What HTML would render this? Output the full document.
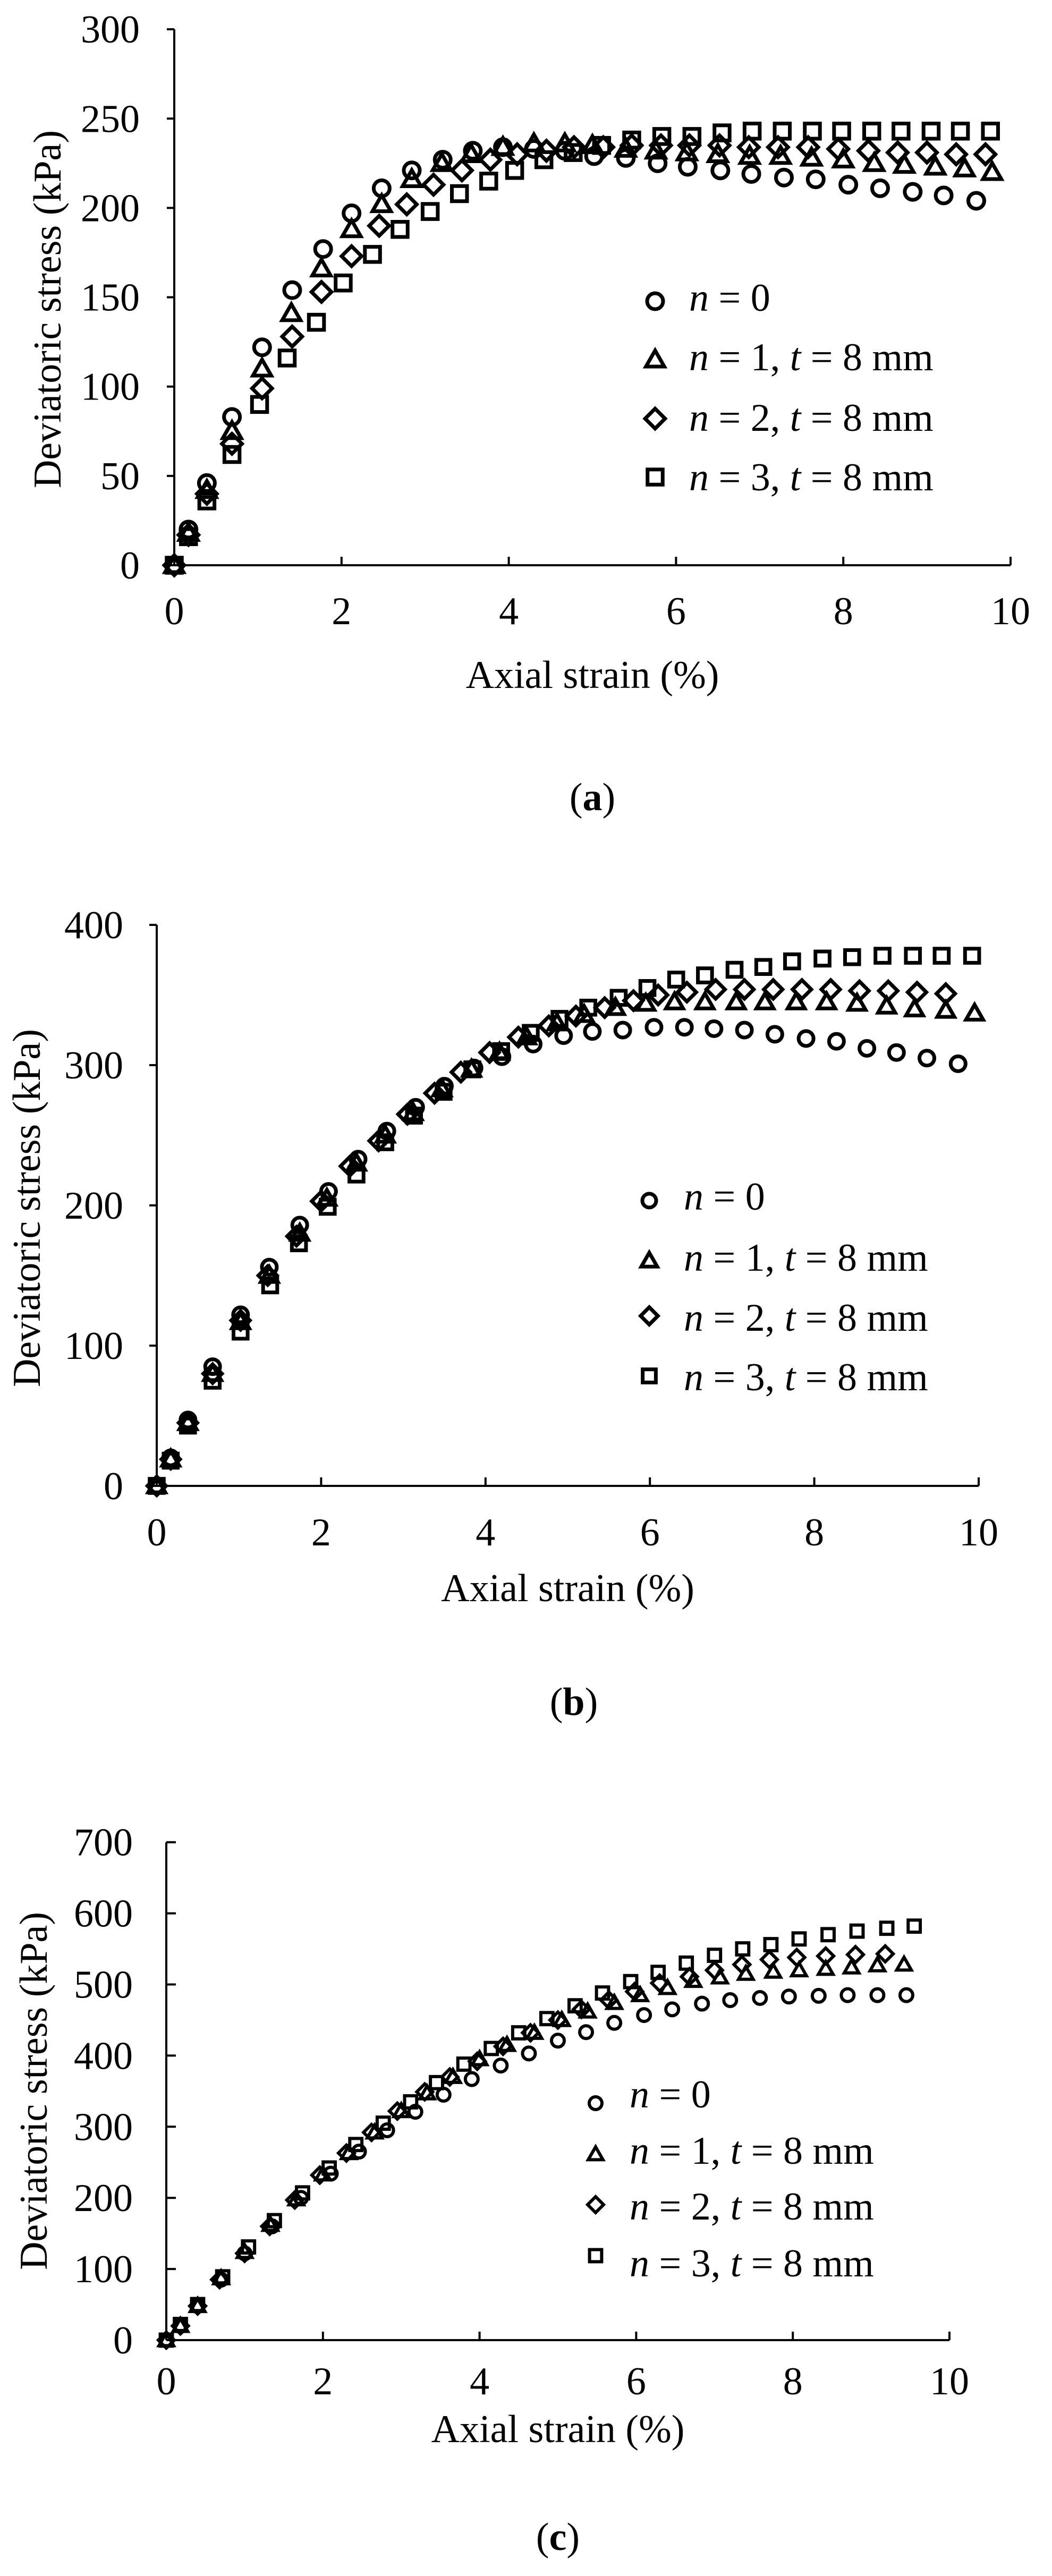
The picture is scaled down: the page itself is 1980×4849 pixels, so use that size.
<!DOCTYPE html>
<html><head><meta charset="utf-8"><style>
html,body{margin:0;padding:0;background:#fff;}
svg{display:block;}
text{font-family:"Liberation Serif",serif;fill:#000;}
</style></head><body>
<svg id="s" xmlns="http://www.w3.org/2000/svg" width="1980" height="4849" viewBox="0 0 1980 4849"></svg>
<script>
const S=document.getElementById('s');const NS='http://www.w3.org/2000/svg';
function el(t,a,txt){const e=document.createElementNS(NS,t);for(const k in a)e.setAttribute(k,a[k]);if(txt!==undefined)e.textContent=txt;S.appendChild(e);return e;}
function mk(type,x,y,r,sw){
 const st={fill:'none',stroke:'#000','stroke-width':sw};
 if(type==0)el('circle',Object.assign({cx:x,cy:y,r:r},st));
 else if(type==1){const h=r*1.15;el('polygon',Object.assign({points:`${x},${y-h} ${x+h},${y+h*0.75} ${x-h},${y+h*0.75}`,'stroke-linejoin':'miter'},st));}
 else if(type==2){const h=r*1.25;el('polygon',Object.assign({points:`${x},${y-h} ${x+h},${y} ${x},${y+h} ${x-h},${y}`},st));}
 else {const h=r*0.95;el('rect',Object.assign({x:x-h,y:y-h,width:2*h,height:2*h},st));}
}
function legendText(x,y,n,fs){
 const t=el('text',{x:x,y:y,'font-size':fs});
 const a=(s,it)=>{const sp=document.createElementNS(NS,'tspan');if(it)sp.setAttribute('font-style','italic');sp.textContent=s;t.appendChild(sp);};
 a('n',1);
 if(n==0)a(' = 0');else{a(' = '+n+', ');a('t',1);a(' = 8 mm');}
}
function panel(P){
 const X=v=>P.x0+v*P.px, Y=v=>P.y0-v*P.py;
 // axes
 el('line',{x1:P.x0,y1:Y(P.ymax),x2:P.x0,y2:P.y0,stroke:'#000','stroke-width':4});
 el('line',{x1:P.x0,y1:P.y0,x2:X(10),y2:P.y0,stroke:'#000','stroke-width':4});
 for(let v=0;v<=P.ymax;v+=P.ystep){
  const y=Y(v);
  if(P.yin) el('line',{x1:P.x0,y1:y,x2:P.x0+18,y2:y,stroke:'#000','stroke-width':4});
  else el('line',{x1:P.x0-14,y1:y,x2:P.x0,y2:y,stroke:'#000','stroke-width':4});
  el('text',{x:P.ylr,y:y+25,'font-size':P.fs,'text-anchor':'end'},String(v));
 }
 for(let v=0;v<=10;v+=2){
  const x=X(v);
  el('line',{x1:x,y1:P.y0-16,x2:x,y2:P.y0,stroke:'#000','stroke-width':4});
  el('text',{x:x,y:P.xly+25,'font-size':P.fs,'text-anchor':'middle'},String(v));
 }
 el('text',{x:(P.x0+X(10))/2+P.xtoff,y:P.xty+25,'font-size':P.fs,'text-anchor':'middle'},'Axial strain (%)');
 el('text',{x:0,y:0,'font-size':P.fs,'text-anchor':'middle',transform:`translate(${P.ytx+25},${P.yty}) rotate(-90)`},'Deviatoric stress (kPa)');
 // data
 for(let s=0;s<4;s++){const d=P.data[s];for(let i=0;i<d.length;i+=2)mk(s,X(d[i]),Y(d[i+1]),P.mr,P.sw);}
 // legend
 for(let s=0;s<4;s++){mk(s,P.lmx,P.lmy[s],P.lmr,P.sw);legendText(P.ltx,P.lty[s],s,P.fs);}
 // label
 const t=el('text',{x:P.lblx,y:P.lbly,'font-size':74,'text-anchor':'middle'});
 const a=(s,b)=>{const sp=document.createElementNS(NS,'tspan');if(b)sp.setAttribute('font-weight','bold');sp.textContent=s;t.appendChild(sp);};
 a('(');a(P.lbl,1);a(')');
}
panel({x0:328,y0:1064,px:157.4,py:3.363,ymax:300,ystep:50,yin:false,fs:74,ylr:263,xly:1150,xty:1270,xtoff:0,ytx:89,yty:582,
 mr:15,sw:7,lmx:1233,lmy:[567,677,788,898],lmr:15,ltx:1297,lty:[585,697,811,923],lbl:'a',lblx:1115,lbly:1525,
 data:[
 [0,0,0.17,20,0.39,46,0.69,83,1.05,122,1.41,154,1.78,177,2.12,197,2.48,211,2.84,221,3.21,227,3.57,232,3.93,234,4.3,233,4.67,232,5.02,229,5.4,228,5.78,225,6.14,223,6.53,221,6.9,219,7.29,217,7.67,216,8.06,213,8.44,211,8.83,209,9.2,207,9.59,204],
 [0,0,0.17,18,0.39,42,0.69,75,1.05,110,1.4,141,1.76,166,2.12,188,2.48,202,2.84,216,3.2,225,3.55,230,3.93,234,4.3,236,4.67,236,5.0,235,5.4,233,5.76,232,6.13,231,6.5,230,6.88,229,7.25,229,7.62,228,8.0,227,8.37,225,8.73,224,9.1,223,9.45,222,9.78,220],
 [0,0,0.17,17,0.39,40,0.69,68,1.05,99,1.41,128,1.76,153,2.12,173,2.45,190,2.78,202,3.1,213,3.44,221,3.78,227,4.1,230,4.45,232,4.78,234,5.13,234,5.47,235,5.82,235,6.16,235,6.52,235,6.87,234,7.22,234,7.58,234,7.94,233,8.3,232,8.65,231,9.0,231,9.35,230,9.7,230],
 [0,0,0.17,16,0.39,36,0.69,62,1.02,90,1.35,116,1.7,136,2.02,158,2.37,174,2.7,188,3.06,198,3.41,208,3.76,215,4.07,221,4.42,227,4.77,231,5.11,235,5.47,238,5.83,240,6.19,240,6.55,242,6.91,243,7.27,243,7.63,243,7.98,243,8.34,243,8.69,243,9.05,243,9.4,243,9.76,243]
 ]});
panel({x0:295,y0:2797,px:154.7,py:2.64,ymax:400,ystep:100,yin:false,fs:74,ylr:232,xly:2884,xty:2989,xtoff:0,ytx:50,yty:2274,
 mr:14,sw:7,lmx:1222,lmy:[2260,2373,2477,2590],lmr:13,ltx:1287,lty:[2277,2392,2505,2617],lbl:'b',lblx:1080,lbly:3228,
 data:[
 [0,0,0.17,20,0.38,47,0.68,85,1.02,122,1.37,156,1.74,186,2.09,210,2.45,233,2.8,253,3.15,270,3.5,285,3.86,298,4.2,306,4.58,315,4.95,321,5.3,324,5.67,325,6.05,327,6.42,327,6.78,326,7.15,325,7.52,322,7.9,319,8.27,317,8.64,312,9.0,309,9.37,305,9.75,301],
 [0,0,0.17,19,0.38,45,0.68,80,1.02,117,1.37,150,1.74,180,2.07,205,2.43,230,2.78,250,3.12,266,3.47,283,3.83,297,4.17,309,4.5,320,4.87,330,5.2,336,5.58,341,5.95,344,6.3,345,6.67,345,7.05,345,7.4,345,7.78,345,8.15,345,8.52,344,8.88,342,9.22,340,9.6,339,9.95,337],
 [0,0,0.17,19,0.38,45,0.68,80,1.02,118,1.35,150,1.7,178,2.0,203,2.35,228,2.7,246,3.05,265,3.38,280,3.7,295,4.05,309,4.4,320,4.77,328,5.1,335,5.45,341,5.8,346,6.1,350,6.45,352,6.8,354,7.15,354,7.5,354,7.85,354,8.2,354,8.55,353,8.9,353,9.25,352,9.6,351],
 [0,0,0.17,18,0.38,43,0.68,75,1.02,110,1.38,143,1.73,173,2.08,199,2.43,222,2.78,245,3.13,264,3.49,281,3.84,297,4.19,310,4.55,323,4.9,333,5.25,341,5.62,348,5.97,355,6.32,361,6.67,364,7.03,368,7.38,370,7.73,374,8.1,376,8.46,377,8.83,378,9.2,378,9.55,378,9.92,378]
 ]});
panel({x0:313,y0:4405,px:147.4,py:1.339,ymax:700,ystep:100,yin:true,fs:74,ylr:250,xly:4482,xty:4572,xtoff:0,ytx:63,yty:3936,
 mr:12,sw:6,lmx:1121,lmy:[3959,4055,4150,4246],lmr:12,ltx:1185,lty:[3967,4073,4178,4285],lbl:'c',lblx:1050,lbly:4800,
 data:[
 [0,0,0.18,20,0.4,48,0.7,85,1.0,122,1.35,160,1.72,200,2.1,234,2.46,265,2.82,295,3.18,321,3.54,345,3.9,367,4.27,386,4.63,403,5.0,421,5.36,433,5.72,446,6.1,457,6.46,465,6.84,473,7.2,478,7.58,481,7.95,483,8.33,484,8.7,485,9.08,485,9.45,485],
 [0,0,0.18,20,0.4,48,0.7,87,1.0,124,1.33,162,1.66,198,2.0,233,2.33,263,2.66,292,3.0,322,3.33,347,3.66,370,4.0,395,4.35,415,4.7,432,5.05,450,5.38,462,5.72,474,6.05,485,6.4,495,6.73,505,7.07,510,7.4,515,7.75,518,8.08,520,8.42,522,8.75,524,9.08,527,9.42,528],
 [0,0,0.18,20,0.4,48,0.68,85,1.0,122,1.32,160,1.64,197,1.96,232,2.3,263,2.62,292,2.95,322,3.3,349,3.62,370,3.97,392,4.3,413,4.65,432,5.0,450,5.3,465,5.65,478,5.98,490,6.3,502,6.68,511,7.0,520,7.35,528,7.7,535,8.05,538,8.42,540,8.8,542,9.18,543],
 [0,0,0.18,22,0.4,50,0.72,89,1.05,131,1.38,168,1.74,207,2.08,242,2.42,275,2.77,305,3.12,335,3.45,362,3.8,388,4.15,410,4.5,432,4.86,452,5.22,470,5.57,488,5.93,504,6.28,517,6.64,530,7.0,541,7.36,550,7.72,556,8.08,564,8.45,570,8.82,575,9.2,579,9.55,582]
 ]});
</script>
</body></html>
